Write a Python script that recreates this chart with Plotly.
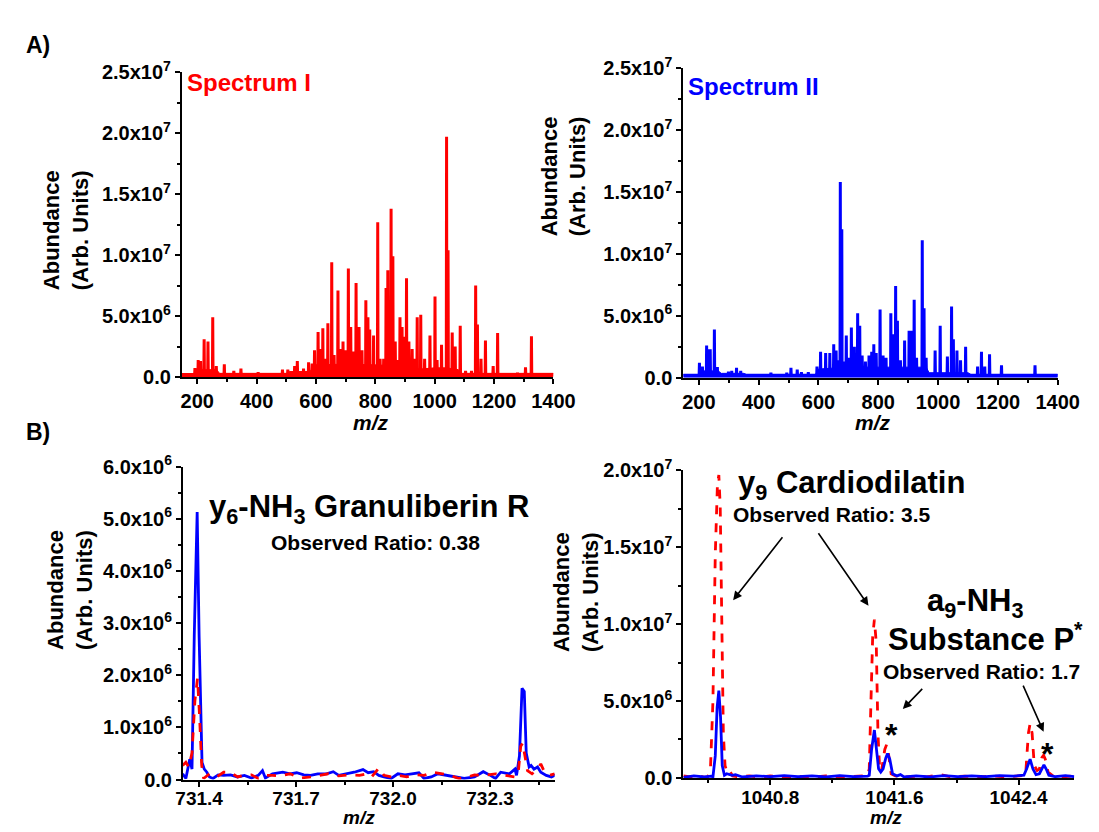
import plotly.graph_objects as go

W, H = 1099, 832
FONT = "Liberation Sans, Arial, sans-serif"
RED = "#ff0000"
BLUE = "#0000ff"

# ---------------- Data ----------------
# Panel A: Spectrum I (red) peak list (m/z, abundance)
spec1_mz = [192, 203, 211, 223, 236, 252, 264, 291, 323, 347, 405, 487, 505, 528, 537, 558,
            575, 587, 595, 607, 614, 623, 632, 640, 653, 661, 674, 682, 691, 701, 709, 717,
            725, 735, 745, 755, 768, 775, 781, 794, 808, 816, 828, 836, 842, 846, 853, 859,
            867, 874, 883, 890, 898, 905, 913, 924, 931, 941, 953, 966, 984, 1001, 1008, 1023,
            1040, 1045, 1059, 1069, 1086, 1104, 1124, 1138, 1144, 1156, 1171, 1197, 1212, 1279,
            1306, 1326]
spec1_ab = [0.74e6, 1.4e6, 1.3e6, 3.1e6, 2.9e6, 4.9e6, 0.9e6, 1.05e6, 0.5e6, 0.7e6, 0.4e6, 0.6e6,
            0.6e6, 0.9e6, 1.3e6, 0.7e6, 1.2e6, 1.1e6, 2.2e6, 3.7e6, 2.3e6, 4.0e6, 1.5e6, 4.4e6,
            9.4e6, 1.8e6, 7.1e6, 2.3e6, 2.9e6, 2.2e6, 8.9e6, 4.1e6, 2.1e6, 7.7e6, 4.1e6, 2.2e6,
            6.3e6, 4.9e6, 3.9e6, 3.4e6, 12.7e6, 1.5e6, 1.5e6, 7.3e6, 8.75e6, 4.6e6, 13.8e6, 9.9e6,
            2.9e6, 1.4e6, 4.9e6, 4.1e6, 3.3e6, 8.1e6, 2.9e6, 2.3e6, 1.5e6, 4.9e6, 5.1e6, 1.5e6,
            3.4e6, 6.6e6, 1.4e6, 2.65e6, 19.7e6, 10.4e6, 3.65e6, 2.5e6, 4.2e6, 0.5e6, 0.5e6,
            7.5e6, 4.3e6, 1.5e6, 3.0e6, 0.9e6, 3.6e6, 0.35e6, 0.8e6, 3.35e6]
# dense low-level "grass" under Spectrum I (m/z, abundance)
spec1_floor_mz = [148, 190, 195, 265, 275, 500, 510, 580, 590, 600, 700, 800, 870, 950, 1000,
                  1040, 1080, 1090, 1400]
spec1_floor_ab = [0.25e6, 0.25e6, 0.6e6, 0.6e6, 0.3e6, 0.3e6, 0.45e6, 0.45e6, 0.8e6, 1.0e6,
                  1.05e6, 1.0e6, 0.9e6, 0.65e6, 0.75e6, 0.75e6, 0.6e6, 0.3e6, 0.3e6]

# Panel A: Spectrum II (blue) peak list
spec2_mz = [202, 212, 226, 234, 238, 252, 262, 299, 310, 326, 340, 441, 494, 508, 529, 543, 566,
            595, 607, 624, 638, 651, 659, 667, 673, 678, 685, 693, 701, 710, 720, 731, 738, 746,
            757, 769, 778, 785, 793, 806, 816, 826, 842, 850, 858, 864, 874, 888, 903, 911, 920,
            928, 947, 953, 960, 990, 1007, 1031, 1045, 1051, 1063, 1075, 1092, 1132, 1145, 1156,
            1172, 1212, 1324]
spec2_ab = [1.2e6, 0.9e6, 2.6e6, 2.3e6, 2.3e6, 3.9e6, 0.85e6, 0.5e6, 0.55e6, 0.8e6, 0.55e6, 0.4e6,
            0.4e6, 0.8e6, 0.65e6, 0.45e6, 0.45e6, 0.9e6, 2.1e6, 2.0e6, 2.0e6, 2.7e6, 2.2e6, 1.4e6,
            15.8e6, 12.0e6, 1.3e6, 3.4e6, 1.6e6, 4.05e6, 2.5e6, 5.2e6, 4.2e6, 1.8e6, 1.3e6, 1.8e6,
            2.1e6, 2.7e6, 2.0e6, 5.5e6, 1.8e6, 1.6e6, 5.2e6, 3.5e6, 7.4e6, 4.6e6, 1.4e6, 3.0e6,
            3.8e6, 3.8e6, 6.3e6, 1.6e6, 11.1e6, 5.6e6, 1.6e6, 2.2e6, 4.2e6, 1.7e6, 5.75e6, 3.1e6,
            2.2e6, 1.4e6, 2.5e6, 0.9e6, 2.1e6, 0.9e6, 1.9e6, 1.0e6, 1.0e6]
spec2_floor_mz = [148, 200, 205, 265, 275, 350, 360, 590, 600, 700, 960, 970, 1100, 1110, 1400]
spec2_floor_ab = [0.25e6, 0.25e6, 0.55e6, 0.55e6, 0.35e6, 0.35e6, 0.25e6, 0.25e6, 0.7e6, 0.85e6,
                  0.85e6, 0.4e6, 0.4e6, 0.25e6, 0.25e6]
noise_floor = 0.2e6

# Panel B left: 731.35 - 732.5 region (abundance in units of 1e6)
bl_blue_mz = [731.349, 731.359, 731.371, 731.378, 731.385, 731.394, 731.400, 731.409, 731.416,
              731.424, 731.432, 731.443, 731.459, 731.476, 731.497, 731.519, 731.540, 731.562,
              731.583, 731.596, 731.605, 731.627, 731.659, 731.681, 731.702, 731.724, 731.745,
              731.767, 731.794, 731.815, 731.832, 731.859, 731.880, 731.907, 731.923, 731.940,
              731.956, 731.972, 731.994, 732.015, 732.037, 732.058, 732.080, 732.096, 732.118,
              732.139, 732.166, 732.193, 732.220, 732.252, 732.279, 732.301, 732.317, 732.333,
              732.360, 732.377, 732.382, 732.391, 732.399, 732.406, 732.412, 732.421, 732.427,
              732.436, 732.447, 732.457, 732.474, 732.490, 732.503]
bl_blue_ab = [0.11, 0.02, 0.39, 0.20, 2.75, 5.13, 2.75, 0.33, 0.20, 0.14, 0.05, 0.02, 0.09, 0.08,
              0.09, 0.05, 0.08, 0.03, 0.08, 0.17, 0.03, 0.11, 0.14, 0.11, 0.13, 0.09, 0.08, 0.11,
              0.11, 0.15, 0.08, 0.11, 0.14, 0.19, 0.13, 0.15, 0.08, 0.05, 0.02, 0.11, 0.09, 0.11,
              0.13, 0.02, 0.05, 0.11, 0.08, 0.05, 0.02, 0.05, 0.15, 0.08, 0.02, 0.14, 0.11, 0.20,
              0.08, 0.45, 1.75, 1.69, 0.51, 0.24, 0.27, 0.20, 0.24, 0.14, 0.08, 0.05, 0.09]
bl_red_mz = [731.349, 731.359, 731.368, 731.378, 731.387, 731.395, 731.401, 731.408, 731.414,
             731.432, 731.454, 731.476, 731.497, 731.519, 731.540, 731.562, 731.583, 731.605,
             731.627, 731.648, 731.681, 731.713, 731.745, 731.778, 731.799, 731.832, 731.864,
             731.896, 731.918, 731.934, 731.956, 731.972, 731.994, 732.015, 732.042, 732.069,
             732.096, 732.123, 732.150, 732.177, 732.204, 732.231, 732.252, 732.279, 732.317,
             732.349, 732.377, 732.387, 732.395, 732.401, 732.409, 732.416, 732.430, 732.447,
             732.457, 732.468, 732.484, 732.500]
bl_red_ab = [0.27, 0.33, 0.24, 0.51, 1.51, 1.94, 1.26, 0.27, 0.02, 0.11, 0.05, 0.14, 0.14, 0.05,
             0.08, 0.09, 0.02, 0.08, 0.08, 0.07, 0.11, 0.03, 0.05, 0.08, 0.11, 0.07, 0.09, 0.08,
             0.11, 0.05, 0.22, 0.08, 0.05, 0.08, 0.05, 0.09, 0.08, 0.14, 0.11, 0.08, 0.02, 0.05,
             0.09, 0.08, 0.11, 0.08, 0.05, 0.11, 0.64, 0.70, 0.39, 0.17, 0.11, 0.20, 0.30, 0.15,
             0.08, 0.11]

# Panel B right: 1040.24 - 1042.76 region (abundance in units of 1e6)
br_red_mz = [1040.241, 1040.285, 1040.330, 1040.375, 1040.397, 1040.415, 1040.431, 1040.446,
             1040.460, 1040.469, 1040.478, 1040.487, 1040.498, 1040.509, 1040.525, 1040.543,
             1040.558, 1040.599, 1040.666, 1040.733, 1040.800, 1040.890, 1040.979, 1041.069,
             1041.158, 1041.248, 1041.337, 1041.404, 1041.427, 1041.438, 1041.449, 1041.460,
             1041.471, 1041.483, 1041.494, 1041.505, 1041.516, 1041.538, 1041.550, 1041.561,
             1041.579, 1041.606, 1041.673, 1041.740, 1041.807, 1041.897, 1041.964, 1042.053,
             1042.143, 1042.232, 1042.322, 1042.411, 1042.445, 1042.463, 1042.474, 1042.487,
             1042.501, 1042.519, 1042.534, 1042.550, 1042.561, 1042.572, 1042.590, 1042.624,
             1042.680, 1042.758]
br_red_ab = [0.13, 0.06, 0.17, 0.04, 0.06, 0.59, 5.0, 14.5, 19.1, 19.7, 17.6, 11.3, 2.9, 0.80,
             0.27, 0.38, 0.13, 0.06, 0.13, 0.04, 0.13, 0.06, 0.11, 0.04, 0.13, 0.06, 0.08, 0.13,
             0.17, 0.59, 5.0, 9.2, 10.3, 8.8, 2.9, 0.59, 0.38, 1.85, 2.17, 1.64, 0.27, 0.13, 0.06,
             0.11, 0.06, 0.21, 0.06, 0.11, 0.04, 0.13, 0.06, 0.11, 0.17, 2.9, 3.53, 2.9, 0.80,
             0.48, 0.59, 1.32, 1.47, 1.22, 0.38, 0.11, 0.06, 0.13]
br_blue_mz = [1040.241, 1040.308, 1040.375, 1040.420, 1040.431, 1040.446, 1040.458, 1040.469,
              1040.480, 1040.491, 1040.505, 1040.520, 1040.554, 1040.576, 1040.621, 1040.710,
              1040.800, 1040.890, 1040.979, 1041.069, 1041.158, 1041.248, 1041.337, 1041.427,
              1041.438, 1041.453, 1041.471, 1041.487, 1041.498, 1041.512, 1041.527, 1041.545,
              1041.556, 1041.570, 1041.588, 1041.617, 1041.639, 1041.662, 1041.740, 1041.829,
              1041.919, 1042.008, 1042.098, 1042.187, 1042.277, 1042.366, 1042.434, 1042.452,
              1042.474, 1042.492, 1042.512, 1042.534, 1042.550, 1042.563, 1042.577, 1042.595,
              1042.635, 1042.702, 1042.758]
br_blue_ab = [0.04, 0.13, 0.06, 0.11, 0.06, 1.43, 4.58, 5.68, 3.95, 0.80, 0.17, 0.27, 0.17, 0.21,
              0.06, 0.13, 0.08, 0.15, 0.08, 0.13, 0.06, 0.15, 0.08, 0.11, 0.17, 1.85, 3.11, 1.64,
              0.59, 0.38, 0.59, 1.32, 1.58, 1.22, 0.27, 0.13, 0.21, 0.06, 0.13, 0.06, 0.15, 0.08,
              0.13, 0.08, 0.15, 0.11, 0.17, 0.59, 1.22, 0.59, 0.21, 0.27, 0.59, 0.84, 0.59, 0.17,
              0.08, 0.15, 0.08]

# Arrow tips in panel B right (m/z, abundance)
arrow_mz = [1040.561, 1041.433, 1041.654, 1042.561]
arrow_ab = [11.56e6, 11.2e6, 4.48e6, 3.0e6]

# Axis ranges / ticks
A_xrange = [148, 1400]
A_yrange = [0, 2.5e7]
A_xticks = [200, 400, 600, 800, 1000, 1200, 1400]
A_yticks = [0, 5e6, 1e7, 1.5e7, 2e7, 2.5e7]
A_ylabels = ["0.0", "5.0x10<sup>6</sup>", "1.0x10<sup>7</sup>", "1.5x10<sup>7</sup>",
             "2.0x10<sup>7</sup>", "2.5x10<sup>7</sup>"]
BL_xrange = [731.35, 732.5]
BL_yrange = [0, 6e6]
BL_xticks = [731.4, 731.7, 732.0, 732.3]
BL_xlabels = ["731.4", "731.7", "732.0", "732.3"]
BL_yticks = [0, 1e6, 2e6, 3e6, 4e6, 5e6, 6e6]
BL_ylabels = ["0.0"] + ["%d.0x10<sup>6</sup>" % i for i in range(1, 7)]
BR_xrange = [1040.24, 1042.76]
BR_yrange = [0, 2e7]
BR_xticks = [1040.8, 1041.6, 1042.4]
BR_xlabels = ["1040.8", "1041.6", "1042.4"]
BR_yticks = [0, 5e6, 1e7, 1.5e7, 2e7]
BR_ylabels = ["0.0", "5.0x10<sup>6</sup>", "1.0x10<sup>7</sup>", "1.5x10<sup>7</sup>",
              "2.0x10<sup>7</sup>"]


def sticks(mz, ab, base, lo, hi, half=1.0):
    pairs = sorted(zip(mz, ab))
    xs, ys = [lo], [base]
    for m, a in pairs:
        xs += [m - half, m, m + half]
        ys += [base, a, base]
    xs.append(hi)
    ys.append(base)
    return xs, ys


fig = go.Figure()

# Spectrum I
fig.add_trace(go.Scatter(x=spec1_floor_mz, y=spec1_floor_ab, mode="lines", fill="tozeroy",
                         fillcolor=RED, line=dict(color=RED, width=1), xaxis="x", yaxis="y",
                         showlegend=False))
x1, y1 = sticks(spec1_mz, spec1_ab, noise_floor, A_xrange[0], A_xrange[1])
fig.add_trace(go.Scatter(x=x1, y=y1, mode="lines", line=dict(color=RED, width=3),
                         xaxis="x", yaxis="y", showlegend=False))
# Spectrum II
fig.add_trace(go.Scatter(x=spec2_floor_mz, y=spec2_floor_ab, mode="lines", fill="tozeroy",
                         fillcolor=BLUE, line=dict(color=BLUE, width=1), xaxis="x2", yaxis="y2",
                         showlegend=False))
x2, y2 = sticks(spec2_mz, spec2_ab, noise_floor, A_xrange[0], A_xrange[1])
fig.add_trace(go.Scatter(x=x2, y=y2, mode="lines", line=dict(color=BLUE, width=3),
                         xaxis="x2", yaxis="y2", showlegend=False))

fig.add_trace(go.Scatter(x=bl_blue_mz, y=[v * 1e6 for v in bl_blue_ab], mode="lines",
                         line=dict(color=BLUE, width=2.8), xaxis="x3", yaxis="y3",
                         showlegend=False))
fig.add_trace(go.Scatter(x=bl_red_mz, y=[v * 1e6 for v in bl_red_ab], mode="lines",
                         line=dict(color=RED, width=2.8, dash="dash"), xaxis="x3", yaxis="y3",
                         showlegend=False))
fig.add_trace(go.Scatter(x=br_red_mz, y=[v * 1e6 for v in br_red_ab], mode="lines",
                         line=dict(color=RED, width=2.8, dash="dash"), xaxis="x4", yaxis="y4",
                         showlegend=False))
fig.add_trace(go.Scatter(x=br_blue_mz, y=[v * 1e6 for v in br_blue_ab], mode="lines",
                         line=dict(color=BLUE, width=2.8), xaxis="x4", yaxis="y4",
                         showlegend=False))


def dom_x(a, b):
    return [a / W, b / W]


def dom_y(top, bottom):
    return [1 - bottom / H, 1 - top / H]


tickfont = dict(family=FONT, size=20, color="black", weight="bold")
tickfont_b = dict(family=FONT, size=19, color="black", weight="bold")


def xaxis(domain, rng, tv, tt, anchor, minor_tick0, minor_dtick, standoff=0, tf=tickfont):
    return dict(domain=domain, range=rng, anchor=anchor, showline=True, linecolor="black",
                linewidth=2, ticks="outside", ticklen=5, tickwidth=2, tickcolor="black",
                tickmode="array", tickvals=tv, ticktext=tt, tickfont=tf,
                ticklabelstandoff=standoff,
                showgrid=False, zeroline=False,
                minor=dict(ticks="outside", ticklen=3, tickwidth=2, tickcolor="black",
                           tickmode="linear", tick0=minor_tick0, dtick=minor_dtick,
                           showgrid=False))


def yaxis(domain, rng, tv, tt, anchor, minor_dtick):
    return dict(domain=domain, range=rng, anchor=anchor, showline=True, linecolor="black",
                linewidth=2, ticks="outside", ticklen=5, tickwidth=2, tickcolor="black",
                tickmode="array", tickvals=tv, ticktext=tt, tickfont=tickfont,
                showgrid=False, zeroline=False,
                minor=dict(ticks="outside", ticklen=3, tickwidth=2, tickcolor="black",
                           tickmode="linear", tick0=0, dtick=minor_dtick, showgrid=False))


A_xlabels = [str(v) for v in A_xticks]

fig.update_layout(
    width=W, height=H, autosize=False,
    margin=dict(l=0, r=0, t=0, b=0),
    paper_bgcolor="white", plot_bgcolor="white",
    xaxis=xaxis(dom_x(171.4, 553), A_xrange, A_xticks, A_xlabels, "y", 0, 100),
    yaxis=yaxis(dom_y(51.7, 366), A_yrange, A_yticks, A_ylabels, "x", 2.5e6),
    xaxis2=xaxis(dom_x(686.4, 1071), A_xrange, A_xticks, A_xlabels, "y2", 0, 100),
    yaxis2=yaxis(dom_y(47.7, 366.7), A_yrange, A_yticks, A_ylabels, "x2", 2.5e6),
    xaxis3=xaxis(dom_x(172.5, 554.3), BL_xrange, BL_xticks, BL_xlabels, "y3", 731.4, 0.15,
                 -4, tickfont_b),
    yaxis3=yaxis(dom_y(458.3, 781), BL_yrange, BL_yticks, BL_ylabels, "x3", 0.5e6),
    xaxis4=xaxis(dom_x(686.4, 1088.2), BR_xrange, BR_xticks, BR_xlabels, "y4", 1040.4, 0.4,
                 -4, tickfont_b),
    yaxis4=yaxis(dom_y(462.3, 779.3), BR_yrange, BR_yticks, BR_ylabels, "x4", 2.5e6),
)


def px(x):
    return x / W


def py(y):
    return 1 - y / H


ann = []


def text(x, y, s, size, color="black", xanchor="center", textangle=0, italic=False,
         yanchor="middle"):
    ann.append(dict(x=px(x), y=py(y), xref="paper", yref="paper", text=s, showarrow=False,
                    xanchor=xanchor, yanchor=yanchor, textangle=textangle, borderpad=0,
                    font=dict(family=FONT, size=size, color=color, weight="bold",
                              style="italic" if italic else "normal")))


text(24, 24, "A)", 23)
text(24, 423, "B)", 23)
text(176, 62, "Spectrum I", 24, RED, xanchor="left")
text(690, 67, "Spectrum II", 24, BLUE, xanchor="left")
for (x, y) in [(366, 413), (881, 413)]:
    text(x, y, "m/z", 21, italic=True)
for x in [353, 895]:
    text(x, 832, "m/z", 19, italic=True, yanchor="bottom")
for (x, y) in [(52, 215), (564, 159), (57, 585), (577, 588)]:
    text(x, y, "Abundance<br>(Arb. Units)", 22, textangle=-90)

text(364, 502, "y<sub>6</sub>-NH<sub>3</sub> Granuliberin R", 31)
text(370, 537, "Observed Ratio: 0.38", 21)
text(859, 477, "y<sub>9</sub> Cardiodilatin", 31)
text(839, 508, "Observed Ratio: 3.5", 21)
text(986, 599, "a<sub>9</sub>-NH<sub>3</sub>", 31)
text(997, 634, "Substance P<sup>*</sup>", 31)
text(890, 670, "Observed Ratio: 1.7", 21, xanchor="left")
text(900, 735, "*", 32)
text(1060, 755, "*", 32)

arrow_off = [(50.5, -64.3), (-51.1, -74), (20.9, -21.6), (-21.1, -47.7)]
for m, a, (dx, dy) in zip(arrow_mz, arrow_ab, arrow_off):
    ann.append(dict(x=m, y=a, xref="x4", yref="y4", ax=dx, ay=dy, axref="pixel",
                    ayref="pixel", text="", showarrow=True, arrowhead=2, arrowsize=1.1,
                    arrowwidth=1.6, arrowcolor="black", standoff=0))

fig.update_layout(annotations=ann)
fig.write_html("out.html")
